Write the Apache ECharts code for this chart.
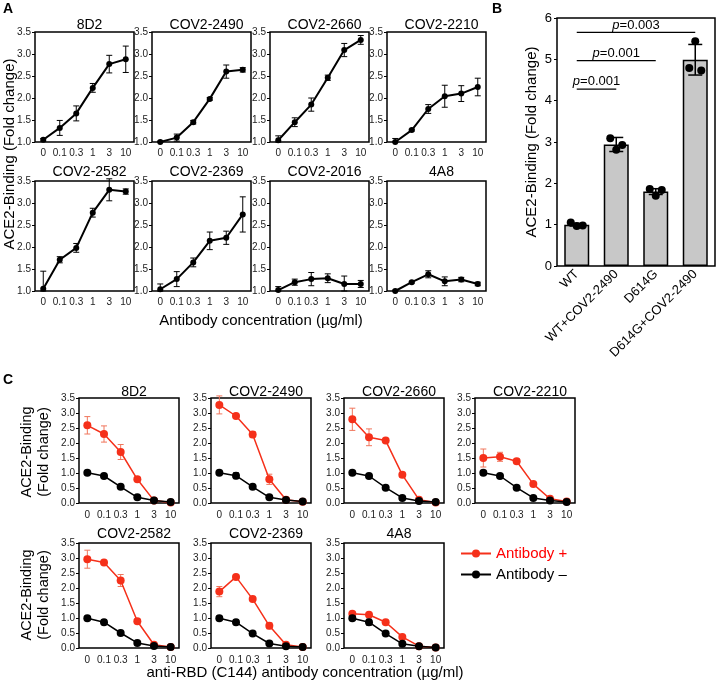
<!DOCTYPE html>
<html>
<head>
<meta charset="utf-8">
<script src="https://cdn.jsdelivr.net/npm/echarts@6/dist/echarts.min.js"></script>
<style>
  html, body { margin: 0; padding: 0; background: #fff; }
  #main { width: 716px; height: 682px; }
</style>
</head>
<body>
<div id="main"></div>
<script>
// concentrations (x categories)
const concLabels = ['0', '0.1', '0.3', '1', '3', '10'];

// panel A: mean / sd
const A_8D2 = [1.05, 1.32, 1.65, 2.23, 2.77, 2.88];
const A_8D2_err = [0.03, 0.17, 0.17, 0.1, 0.2, 0.3];
const A_2490 = [1.0, 1.1, 1.45, 1.98, 2.6, 2.64];
const A_2490_err = [0.02, 0.08, 0.04, 0.03, 0.15, 0.05];
const A_2660 = [1.04, 1.45, 1.85, 2.46, 3.09, 3.32];
const A_2660_err = [0.1, 0.1, 0.15, 0.06, 0.15, 0.1];
const A_2210 = [1.0, 1.27, 1.75, 2.04, 2.1, 2.25];
const A_2210_err = [0.08, 0.02, 0.1, 0.25, 0.18, 0.2];
const A_2582 = [1.05, 1.71, 1.98, 2.78, 3.3, 3.26];
const A_2582_err = [0.4, 0.07, 0.1, 0.1, 0.25, 0.06];
const A_2369 = [1.04, 1.27, 1.65, 2.14, 2.21, 2.74];
const A_2369_err = [0.12, 0.17, 0.1, 0.2, 0.15, 0.4];
const A_2016 = [1.02, 1.2, 1.27, 1.29, 1.16, 1.16];
const A_2016_err = [0.08, 0.07, 0.15, 0.1, 0.18, 0.08];
const A_4A8 = [1.0, 1.2, 1.38, 1.22, 1.26, 1.16];
const A_4A8_err = [0.02, 0.02, 0.08, 0.1, 0.05, 0.04];

// panel B
const bCats = ['WT', 'WT+COV2-2490', 'D614G', 'D614G+COV2-2490'];
const bMeans = [1.0, 2.94, 1.8, 4.99];
const bErr = [0.03, 0.17, 0.07, 0.37];
const bDots_WT = [1.05, 0.97, 0.98];
const bDots_WT2490 = [3.09, 2.81, 2.93];
const bDots_D614G = [1.86, 1.70, 1.84];
const bDots_D614G2490 = [4.79, 5.44, 4.73];
const bPairs = [[0, 1], [0, 2], [0, 3]];
const bPLevel = [4.28, 4.97, 5.65];
const bPText = ['0.001', '0.001', '0.003'];

// panel C: with antibody (+) and without (-)
const C_8D2_pos = [2.59, 2.30, 1.70, 0.79, 0.08, 0.02];
const C_8D2_pos_err = [0.29, 0.27, 0.25, 0.05, 0.03, 0.02];
const C_8D2_neg = [1.01, 0.90, 0.54, 0.19, 0.08, 0.03];
const C_8D2_neg_err = [0.05, 0.07, 0.02, 0.02, 0.02, 0.01];
const C_2490_pos = [3.27, 2.90, 2.28, 0.79, 0.11, 0.04];
const C_2490_pos_err = [0.3, 0.04, 0.1, 0.17, 0.03, 0.02];
const C_2490_neg = [1.01, 0.91, 0.54, 0.19, 0.1, 0.05];
const C_2490_neg_err = [0.05, 0.1, 0.02, 0.02, 0.02, 0.01];
const C_2660_pos = [2.79, 2.19, 2.08, 0.94, 0.11, 0.02];
const C_2660_pos_err = [0.37, 0.28, 0.05, 0.08, 0.04, 0.02];
const C_2660_neg = [1.01, 0.90, 0.51, 0.17, 0.07, 0.03];
const C_2660_neg_err = [0.05, 0.07, 0.02, 0.02, 0.02, 0.01];
const C_2210_pos = [1.50, 1.54, 1.39, 0.63, 0.14, 0.05];
const C_2210_pos_err = [0.3, 0.15, 0.08, 0.03, 0.02, 0.02];
const C_2210_neg = [1.01, 0.90, 0.51, 0.17, 0.08, 0.03];
const C_2210_neg_err = [0.07, 0.08, 0.02, 0.02, 0.02, 0.01];
const C_2582_pos = [2.96, 2.85, 2.25, 0.89, 0.11, 0.03];
const C_2582_pos_err = [0.3, 0.03, 0.2, 0.07, 0.03, 0.02];
const C_2582_neg = [0.99, 0.86, 0.50, 0.17, 0.07, 0.03];
const C_2582_neg_err = [0.05, 0.08, 0.02, 0.02, 0.02, 0.01];
const C_2369_pos = [1.88, 2.37, 1.63, 0.74, 0.11, 0.03];
const C_2369_pos_err = [0.17, 0.04, 0.03, 0.1, 0.03, 0.02];
const C_2369_neg = [0.99, 0.86, 0.48, 0.15, 0.06, 0.03];
const C_2369_neg_err = [0.07, 0.08, 0.02, 0.02, 0.02, 0.01];
const C_4A8_pos = [1.14, 1.11, 0.86, 0.37, 0.06, 0.02];
const C_4A8_pos_err = [0.05, 0.07, 0.03, 0.02, 0.01, 0.01];
const C_4A8_neg = [0.99, 0.86, 0.48, 0.14, 0.06, 0.02];
const C_4A8_neg_err = [0.07, 0.1, 0.02, 0.02, 0.01, 0.01];

const FONT = 'Liberation Sans, Arial, Helvetica, sans-serif';
const RED = '#f5301a';
const RED_ERR = '#f0765c';

const panelA = [
  ['8D2', A_8D2, A_8D2_err], ['COV2-2490', A_2490, A_2490_err],
  ['COV2-2660', A_2660, A_2660_err], ['COV2-2210', A_2210, A_2210_err],
  ['COV2-2582', A_2582, A_2582_err], ['COV2-2369', A_2369, A_2369_err],
  ['COV2-2016', A_2016, A_2016_err], ['4A8', A_4A8, A_4A8_err]
];
const panelC = [
  ['8D2', C_8D2_pos, C_8D2_pos_err, C_8D2_neg, C_8D2_neg_err],
  ['COV2-2490', C_2490_pos, C_2490_pos_err, C_2490_neg, C_2490_neg_err],
  ['COV2-2660', C_2660_pos, C_2660_pos_err, C_2660_neg, C_2660_neg_err],
  ['COV2-2210', C_2210_pos, C_2210_pos_err, C_2210_neg, C_2210_neg_err],
  ['COV2-2582', C_2582_pos, C_2582_pos_err, C_2582_neg, C_2582_neg_err],
  ['COV2-2369', C_2369_pos, C_2369_pos_err, C_2369_neg, C_2369_neg_err],
  ['4A8', C_4A8_pos, C_4A8_pos_err, C_4A8_neg, C_4A8_neg_err]
];

// layout
const aLeft = [35, 152, 270, 387], aTop = [32, 181], aW = 99, aH = 110;
const cLeft = [79, 211, 344, 475], cTop = [398, 543], cW = 100, cH = 105;

function errItems(mean, err, min) {
  return mean.map((m, i) => [i, Math.max(m - err[i], min), m + err[i]]);
}
function errorBar(cap, color, lw) {
  return function (params, api) {
    const x = api.value(0);
    const top = api.coord([x, api.value(2)]);
    const bot = api.coord([x, api.value(1)]);
    const st = { stroke: color, lineWidth: lw };
    return {
      type: 'group',
      children: [
        { type: 'line', shape: { x1: top[0], y1: top[1], x2: bot[0], y2: bot[1] }, style: st },
        { type: 'line', shape: { x1: top[0] - cap, y1: top[1], x2: top[0] + cap, y2: top[1] }, style: st },
        { type: 'line', shape: { x1: bot[0] - cap, y1: bot[1], x2: bot[0] + cap, y2: bot[1] }, style: st }
      ]
    };
  };
}

const grid = [], xAxis = [], yAxis = [], series = [], title = [];

function addSmallAxes(gi, min, fontSize, labelMargin) {
  xAxis.push({
    gridIndex: gi, type: 'category', data: concLabels, boundaryGap: true,
    axisLine: { show: false }, axisTick: { show: false },
    axisLabel: { interval: 0, fontSize: fontSize, color: '#222', margin: labelMargin, fontFamily: FONT }
  });
  yAxis.push({
    gridIndex: gi, type: 'value', min: min, max: 3.5, interval: 0.5,
    axisLine: { show: false }, splitLine: { show: false },
    axisTick: { show: true, length: 3, lineStyle: { color: '#000' } },
    axisLabel: { fontSize: fontSize, color: '#222', margin: 4, fontFamily: FONT, formatter: v => v.toFixed(1) }
  });
}

// ---- panel A
panelA.forEach((p, k) => {
  const gi = grid.length;
  const col = k % 4, row = Math.floor(k / 4);
  grid.push({ left: aLeft[col], top: aTop[row], width: aW, height: aH, show: true, borderColor: '#000', borderWidth: 1.5, backgroundColor: 'transparent' });
  addSmallAxes(gi, 1, 10, 6);
  title.push({ text: p[0], left: aLeft[col] + aW / 2, top: row === 0 ? 13 : 160, textAlign: 'center',
    textStyle: { fontSize: 14, fontWeight: 'normal', color: '#000', fontFamily: FONT } });
  series.push({
    type: 'custom', xAxisIndex: gi, yAxisIndex: gi, renderItem: errorBar(3, '#000', 1),
    data: errItems(p[1], p[2], 1), encode: { x: 0, y: [1, 2] }, z: 3, silent: true
  });
  series.push({
    type: 'line', xAxisIndex: gi, yAxisIndex: gi, data: p[1], symbol: 'circle', symbolSize: 6,
    lineStyle: { color: '#000', width: 2 }, itemStyle: { color: '#000' }, z: 4, silent: true
  });
});

// ---- panel B
const giB = grid.length;
grid.push({ left: 557, top: 18, width: 158, height: 248, show: true, borderColor: '#000', borderWidth: 1.5, backgroundColor: 'transparent' });
xAxis.push({
  gridIndex: giB, type: 'category', data: bCats, boundaryGap: true,
  axisLine: { show: false }, axisTick: { show: false },
  axisLabel: { interval: 0, rotate: 45, fontSize: 13, color: '#000', margin: 6, fontFamily: FONT }
});
yAxis.push({
  gridIndex: giB, type: 'value', min: 0, max: 6, interval: 1,
  axisLine: { show: false }, splitLine: { show: false },
  axisTick: { show: true, length: 3, lineStyle: { color: '#000' } },
  axisLabel: { fontSize: 13, color: '#000', margin: 5, fontFamily: FONT }
});
series.push({
  type: 'bar', xAxisIndex: giB, yAxisIndex: giB, data: bMeans, barWidth: 25,
  itemStyle: { color: '#c8c8c8', borderColor: '#000', borderWidth: 1.5 }, z: 2, silent: true
});
series.push({
  type: 'custom', xAxisIndex: giB, yAxisIndex: giB, renderItem: errorBar(7, '#000', 1.5),
  data: errItems(bMeans, bErr, 0), encode: { x: 0, y: [1, 2] }, z: 3, silent: true
});
const bDotGroups = [bDots_WT, bDots_WT2490, bDots_D614G, bDots_D614G2490];
const bDotData = [];
bDotGroups.forEach((g, ci) => g.forEach((v, j) => bDotData.push([ci, v, j - 1])));
series.push({
  type: 'custom', xAxisIndex: giB, yAxisIndex: giB, data: bDotData, encode: { x: 0, y: 1 }, z: 5, silent: true,
  renderItem: function (params, api) {
    const c = api.coord([api.value(0), api.value(1)]);
    return { type: 'circle', shape: { cx: c[0] + api.value(2) * 6, cy: c[1], r: 4 }, style: { fill: '#000' } };
  }
});
series.push({
  type: 'custom', xAxisIndex: giB, yAxisIndex: giB, z: 5, silent: true,
  data: bPairs.map((pr, i) => [pr[0], pr[1], bPLevel[i], i]),
  encode: { x: [0, 1], y: 2 },
  renderItem: function (params, api) {
    const a = api.coord([api.value(0), api.value(2)]);
    const b = api.coord([api.value(1), api.value(2)]);
    return {
      type: 'group', children: [
        { type: 'line', shape: { x1: a[0], y1: a[1], x2: b[0], y2: b[1] }, style: { stroke: '#000', lineWidth: 1.2 } },
        { type: 'text', x: (a[0] + b[0]) / 2, y: a[1] - 1,
          style: { text: '{i|p}=' + bPText[api.value(3)], fontSize: 13, fontFamily: FONT, fill: '#000',
            align: 'center', verticalAlign: 'bottom',
            rich: { i: { fontStyle: 'italic', fontSize: 13, fontFamily: FONT } } } }
      ]
    };
  }
});

// ---- panel C
panelC.forEach((p, k) => {
  const gi = grid.length;
  const col = k % 4, row = Math.floor(k / 4);
  grid.push({ left: cLeft[col], top: cTop[row], width: cW, height: cH, show: true, borderColor: '#000', borderWidth: 1.5, backgroundColor: 'transparent' });
  addSmallAxes(gi, 0, 10, 7);
  title.push({ text: p[0], left: cLeft[col] + cW / 2, top: row === 0 ? 380 : 522, textAlign: 'center',
    textStyle: { fontSize: 14, fontWeight: 'normal', color: '#000', fontFamily: FONT } });
  series.push({
    type: 'custom', xAxisIndex: gi, yAxisIndex: gi, renderItem: errorBar(3, RED_ERR, 1),
    data: errItems(p[1], p[2], 0), encode: { x: 0, y: [1, 2] }, z: 3, silent: true
  });
  series.push({
    name: 'Antibody +', type: 'line', xAxisIndex: gi, yAxisIndex: gi, data: p[1], symbol: 'circle', symbolSize: 8,
    lineStyle: { color: RED, width: 1.5 }, itemStyle: { color: RED }, z: 4, silent: true
  });
  series.push({
    type: 'custom', xAxisIndex: gi, yAxisIndex: gi, renderItem: errorBar(3, '#444', 1),
    data: errItems(p[3], p[4], 0), encode: { x: 0, y: [1, 2] }, z: 5, silent: true
  });
  series.push({
    name: 'Antibody \u2013', type: 'line', xAxisIndex: gi, yAxisIndex: gi, data: p[3], symbol: 'circle', symbolSize: 8,
    lineStyle: { color: '#000', width: 1.5 }, itemStyle: { color: '#000' }, z: 6, silent: true
  });
});

const bold = { fontWeight: 'bold', fontSize: 14, fontFamily: FONT, fill: '#000' };
function txt(x, y, text, size, rot, extra) {
  return {
    type: 'text', x: x, y: y, rotation: rot || 0, silent: true,
    style: Object.assign({ text: text, fontSize: size, fontFamily: FONT, fill: '#000',
      align: 'center', verticalAlign: 'middle', textAlign: 'center', textVerticalAlign: 'middle' }, extra || {})
  };
}

const option = {
  animation: false,
  backgroundColor: '#fff',
  textStyle: { fontFamily: FONT },
  title: title,
  grid: grid,
  xAxis: xAxis,
  yAxis: yAxis,
  series: series,
  legend: {
    data: [{ name: 'Antibody +', textStyle: { color: '#ff0000' } }, { name: 'Antibody \u2013', textStyle: { color: '#000' } }],
    orient: 'vertical', left: 455, top: 541, itemWidth: 30, itemHeight: 10, itemGap: 6,
    textStyle: { fontSize: 15, fontFamily: FONT }, selectedMode: false
  },
  graphic: [
    txt(8, 9, 'A', 14, 0, bold),
    txt(497, 9, 'B', 14, 0, bold),
    txt(8, 380, 'C', 14, 0, bold),
    txt(10, 154, 'ACE2-Binding (Fold change)', 15, Math.PI / 2),
    txt(261, 321, 'Antibody concentration (\u00b5g/ml)', 15, 0),
    txt(532, 142, 'ACE2-Binding (Fold change)', 15, Math.PI / 2),
    txt(35, 452, 'ACE2-Binding\n(Fold change)', 14.5, Math.PI / 2, { lineHeight: 17 }),
    txt(35, 595, 'ACE2-Binding\n(Fold change)', 14.5, Math.PI / 2, { lineHeight: 17 }),
    txt(305, 673, 'anti-RBD (C144) antibody concentration (\u00b5g/ml)', 15, 0)
  ]
};

const chart = echarts.init(document.getElementById('main'), null, { renderer: 'canvas' });
chart.setOption(option);
</script>
</body>
</html>
